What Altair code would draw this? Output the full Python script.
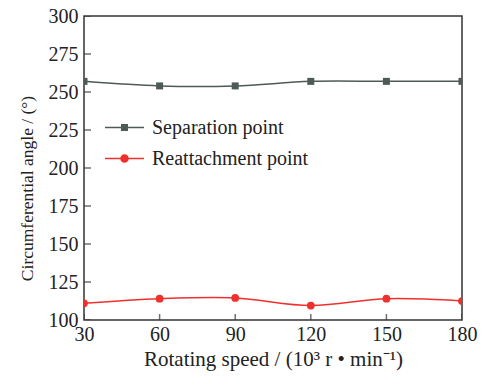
import altair as alt
import pandas as pd

speeds = [30, 60, 90, 120, 150, 180]
separation = [257, 254, 254, 257, 257, 257]
reattachment = [111, 114, 114.5, 109.5, 114, 112.5]
series_names = ["Separation point", "Reattachment point"]
series_colors = ["#4d5a58", "#f0302c"]
y_ticks = [100, 125, 150, 175, 200, 225, 250, 275, 300]
x_ticks = [30, 60, 90, 120, 150, 180]

FONT = "Liberation Serif"

df = pd.DataFrame({
    "speed": speeds * 2,
    "angle": separation + reattachment,
    "series": [series_names[0]] * len(speeds) + [series_names[1]] * len(speeds),
})

xscale = alt.Scale(domain=[30, 180], nice=False, zero=False)
yscale = alt.Scale(domain=[100, 300], nice=False, zero=False)

xaxis = alt.Axis(values=x_ticks, title="Rotating speed / (10³ r • min⁻¹)", tickSize=0,
                 domain=False, grid=False, labelPadding=4, labelFontSize=20,
                 labelOverlap=False, labelFlush=False, labelBound=False,
                 titleFontSize=21, titleFontWeight="normal", titlePadding=4,
                 labelFont=FONT, titleFont=FONT, labelColor="#222", titleColor="#222")
yaxis = alt.Axis(values=y_ticks, title="Circumferential angle / (°)", tickSize=0,
                 domain=False, grid=False, labelPadding=6, labelFontSize=20,
                 labelOverlap=False, labelFlush=False, labelBound=False,
                 titleFontSize=17.5, titleFontWeight="normal", titlePadding=12,
                 titleY=172,
                 labelFont=FONT, titleFont=FONT, labelColor="#222", titleColor="#222")

base = alt.Chart(df)

layers = []
for name, col, shp, sz in zip(series_names, series_colors, ["square", "circle"], [49, 60]):
    sub = base.transform_filter(alt.datum.series == name)
    layers.append(sub.mark_line(color=col, strokeWidth=1.5, interpolate="cardinal", clip=True).encode(
        x=alt.X("speed:Q", scale=xscale, axis=xaxis),
        y=alt.Y("angle:Q", scale=yscale, axis=yaxis),
    ))
    layers.append(sub.mark_point(color=col, filled=True, shape=shp, size=sz, opacity=1, clip=True).encode(
        x=alt.X("speed:Q", scale=xscale, axis=xaxis),
        y=alt.Y("angle:Q", scale=yscale, axis=yaxis),
    ))

# inner tick marks
ytick_df = pd.DataFrame({"v": y_ticks, "x0": [min(x_ticks)] * len(y_ticks)})
xtick_df = pd.DataFrame({"v": x_ticks, "y0": [min(y_ticks)] * len(x_ticks)})
layers.append(alt.Chart(ytick_df).mark_tick(orient="horizontal", size=14, thickness=1.5,
                                            color="#333", clip=True).encode(
    x=alt.X("x0:Q", scale=xscale, axis=xaxis), y=alt.Y("v:Q", scale=yscale, axis=yaxis)))
layers.append(alt.Chart(xtick_df).mark_tick(orient="vertical", size=12, thickness=1.5,
                                            color="#333", clip=True).encode(
    x=alt.X("v:Q", scale=xscale, axis=xaxis), y=alt.Y("y0:Q", scale=yscale, axis=yaxis)))

# legend layer (invisible marks, visible legend)
pathA = "M-1,0H1M-0.14,-0.14H0.14V0.14H-0.14Z"
pathB = "M-1,0H1M0.18,0A0.18,0.18 0 1,1 -0.18,0A0.18,0.18 0 1,1 0.18,0Z"
leg = alt.Legend(title=None, orient="none", legendX=20, legendY=91, padding=0,
                 labelFont=FONT, labelFontSize=20, labelColor="#222", symbolOpacity=1,
                 symbolSize=1520, symbolStrokeWidth=1.5, rowPadding=-10, labelOffset=7)
legdf = pd.DataFrame({"series": series_names, "speed": [30, 30], "angle": [200, 200]})
layers.append(alt.Chart(legdf).mark_point(filled=True, opacity=0, size=1520).encode(
    x=alt.X("speed:Q", scale=xscale, axis=xaxis),
    y=alt.Y("angle:Q", scale=yscale, axis=yaxis),
    color=alt.Color("series:N", scale=alt.Scale(domain=series_names, range=series_colors), legend=leg),
    stroke=alt.Stroke("series:N", scale=alt.Scale(domain=series_names, range=series_colors), legend=leg),
    shape=alt.Shape("series:N", scale=alt.Scale(domain=series_names, range=[pathA, pathB]), legend=leg),
))

chart = alt.layer(*layers).properties(
    width=378, height=304,
    autosize=alt.AutoSizeParams(type="none"),
    padding={"left": 84, "top": 16, "right": 19, "bottom": 57},
    background="white",
).configure_view(stroke="#333", strokeWidth=1.5)

chart.save("out.html", embed_options={"renderer": "svg", "actions": False})
